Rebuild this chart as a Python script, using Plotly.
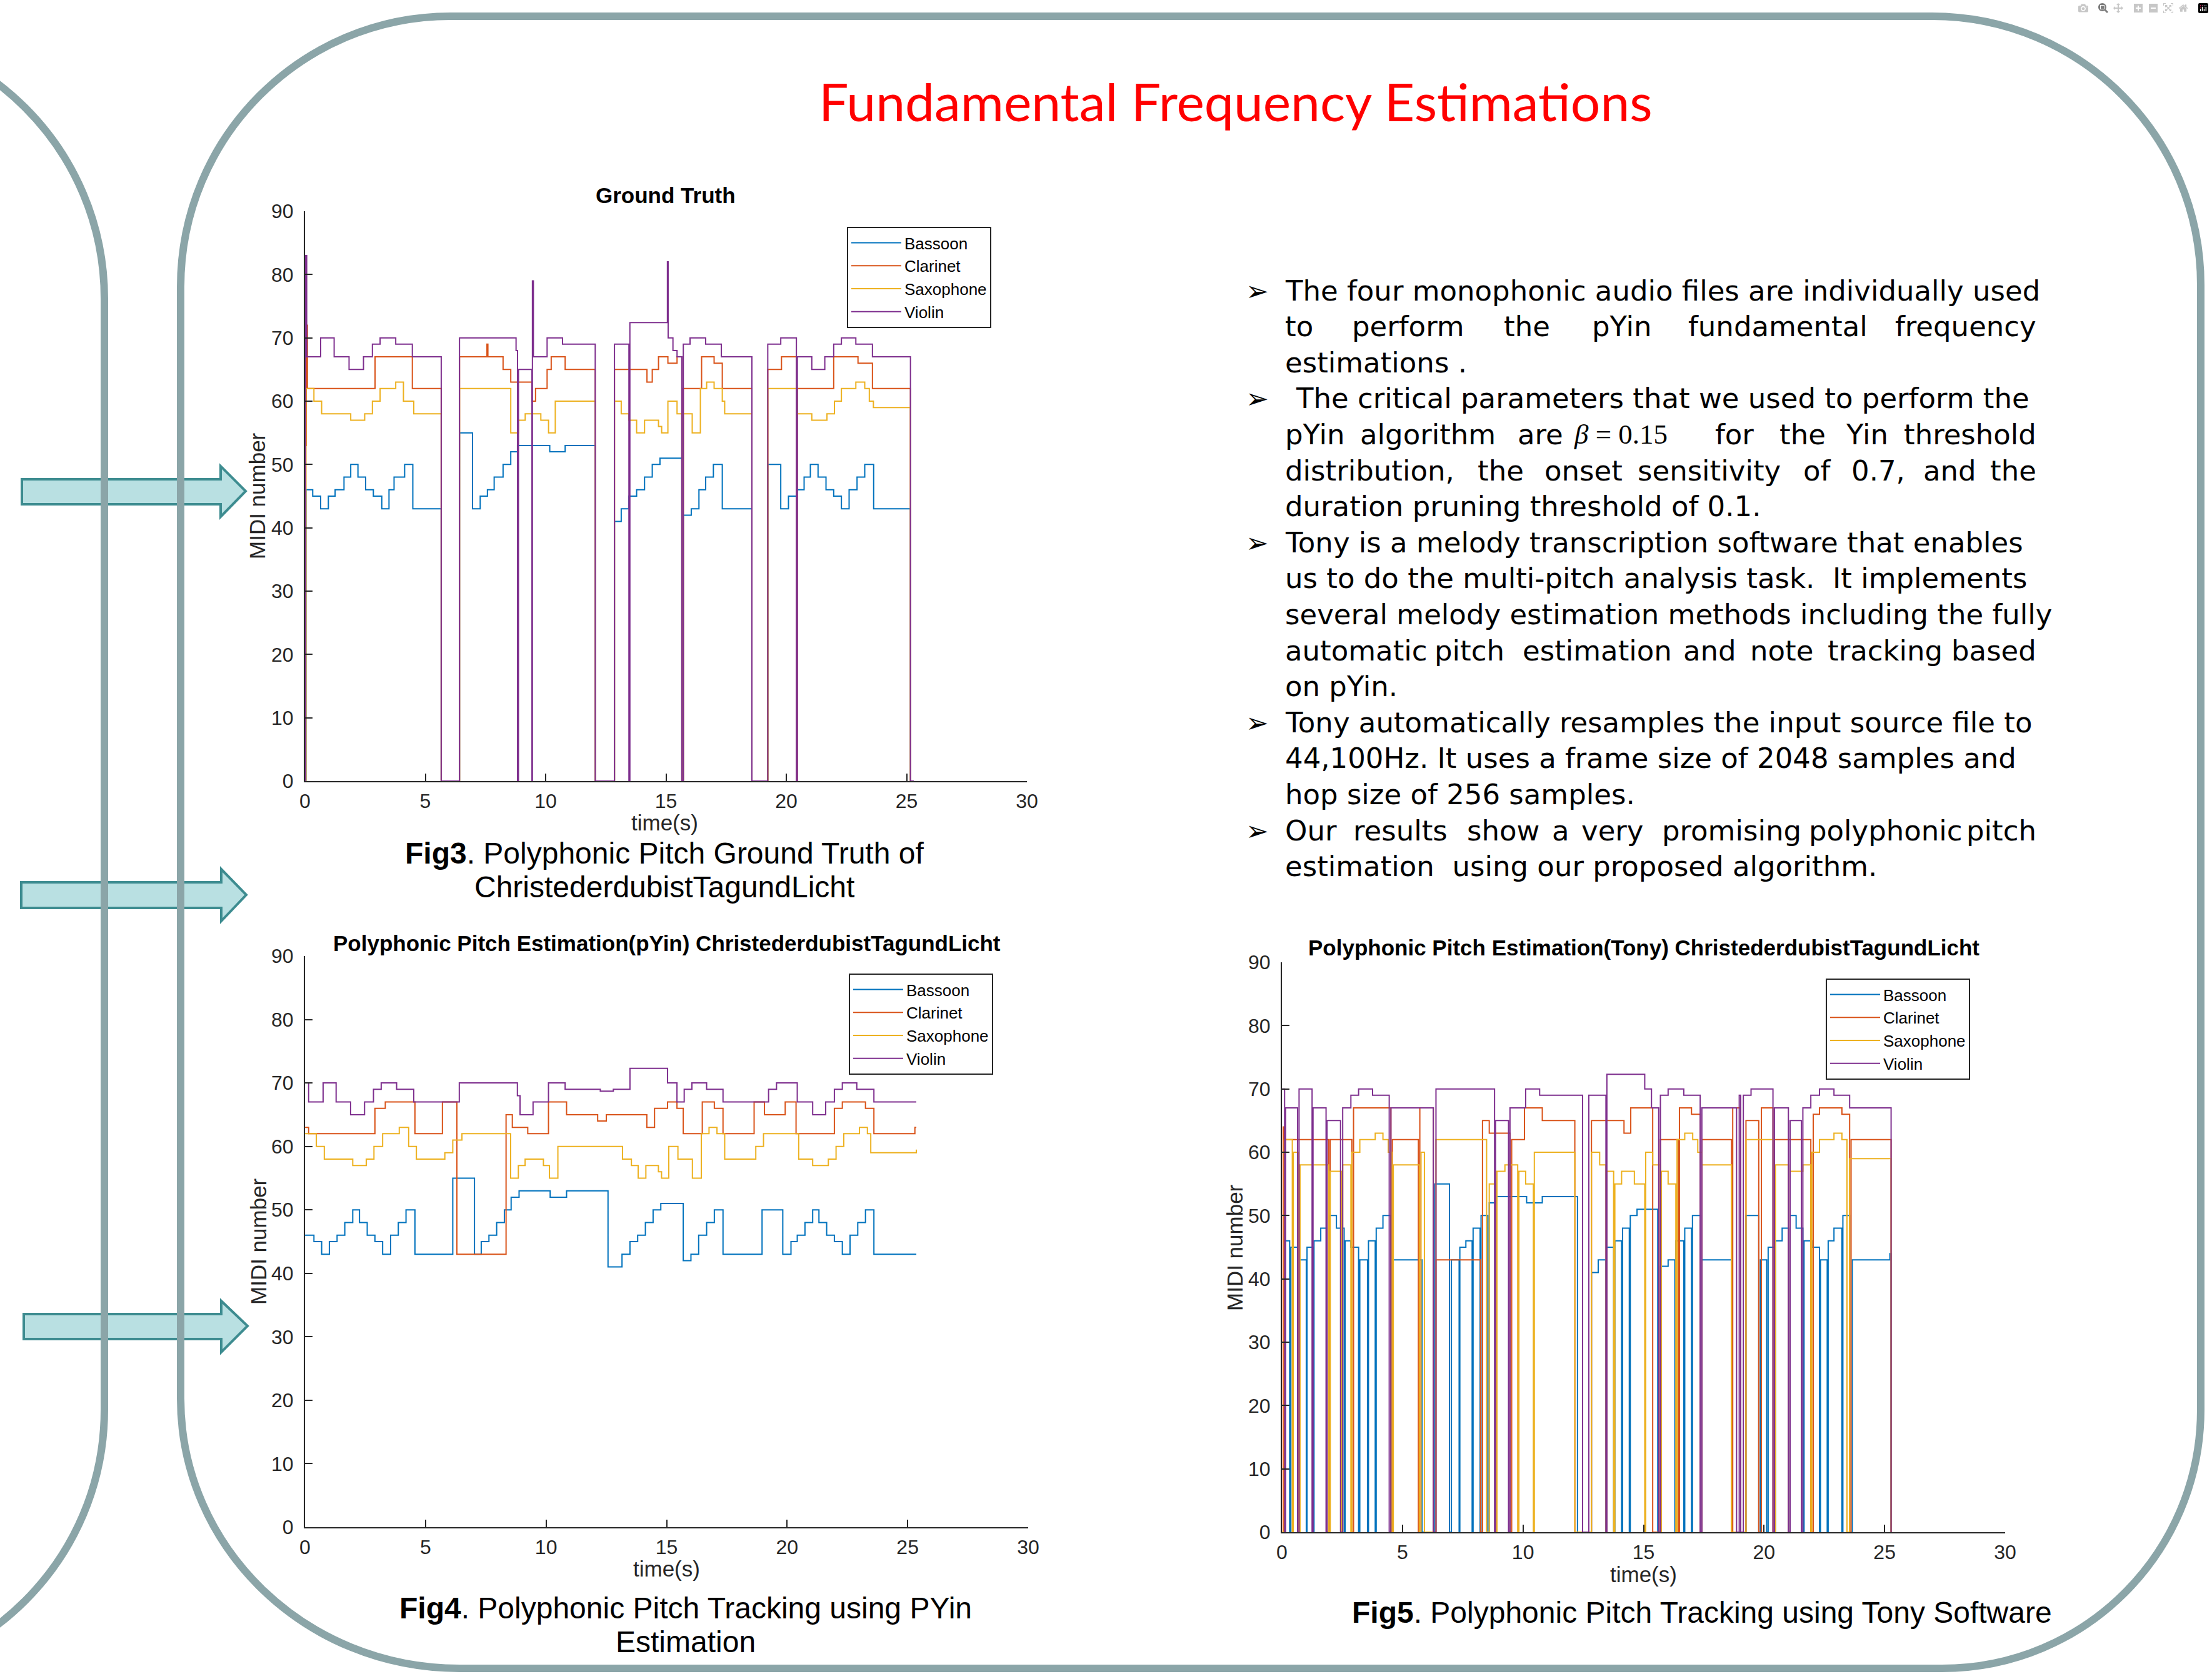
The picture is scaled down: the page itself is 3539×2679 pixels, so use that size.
import plotly.graph_objects as go

W, H = 3539, 2679
SANS = "Liberation Sans, Arial, Helvetica, sans-serif"
HAND = "DejaVu Sans, Verdana, sans-serif"
TITLE_FONT = "Lato, Noto Sans, sans-serif"

INSTRUMENTS = ["Bassoon", "Clarinet", "Saxophone", "Violin"]
COLORS = ["#0072BD", "#D95319", "#EDB120", "#7E2F8E"]
X_TICKS = [0, 5, 10, 15, 20, 25, 30]
Y_TICKS = [0, 10, 20, 30, 40, 50, 60, 70, 80, 90]

# ---------- Ground truth: (start time s, MIDI number) steps; last pair = end ----------
gt_bassoon = [(0.00, 0), (0.04, 46), (0.32, 45), (0.65, 43), (0.97, 45), (1.25, 46), (1.62, 48), (1.90, 50),
              (2.20, 48), (2.52, 46), (2.84, 45), (3.19, 43), (3.49, 46), (3.70, 48), (4.14, 50), (4.48, 43),
              (5.66, 0), (6.42, 55), (6.96, 43), (7.28, 45), (7.58, 46), (7.86, 48), (8.23, 50), (8.55, 52),
              (8.83, 53), (10.17, 52), (10.81, 53), (12.06, 0), (12.86, 41), (13.14, 43), (13.46, 45),
              (13.78, 46), (14.11, 48), (14.43, 50), (14.75, 51), (15.66, 0), (15.72, 42), (16.05, 43),
              (16.37, 46), (16.65, 48), (16.97, 50), (17.34, 43), (18.57, 0), (19.23, 50), (19.77, 43),
              (20.09, 45), (20.42, 46), (20.74, 48), (21.00, 50), (21.32, 48), (21.65, 46), (21.97, 45),
              (22.29, 43), (22.61, 46), (22.94, 48), (23.26, 50), (23.63, 43), (25.16, 0), (25.30, 0)]
gt_clarinet = [(0.00, 0), (0.02, 53), (0.05, 72), (0.10, 62), (2.91, 67), (4.46, 62), (5.66, 0), (6.42, 67),
               (7.56, 69), (7.60, 67), (8.23, 65), (8.55, 63), (9.43, 60), (9.58, 62), (10.06, 65), (10.23, 67),
               (10.81, 65), (12.06, 0), (12.86, 65), (14.21, 63), (14.43, 65), (14.69, 67), (15.08, 66),
               (15.46, 67), (15.66, 0), (15.72, 62), (16.48, 67), (17.00, 66), (17.34, 62), (18.57, 0),
               (19.23, 65), (19.80, 67), (20.42, 0), (20.46, 62), (21.97, 67), (22.98, 66), (23.58, 62),
               (25.16, 0), (25.30, 0)]
gt_saxophone = [(0.00, 0), (0.04, 62), (0.37, 60), (0.69, 58), (1.90, 57), (2.48, 58), (2.80, 60), (3.12, 62),
                (3.77, 63), (4.09, 60), (4.52, 58), (5.66, 0), (6.42, 62), (8.55, 55), (8.87, 57), (9.15, 58),
                (9.80, 57), (10.12, 55), (10.40, 60), (12.06, 0), (12.86, 60), (13.14, 58), (13.46, 57),
                (13.78, 55), (14.11, 57), (14.69, 56), (14.82, 55), (15.08, 60), (15.46, 58), (15.66, 0),
                (15.72, 58), (16.09, 55), (16.43, 62), (16.69, 63), (17.00, 62), (17.34, 60), (17.44, 58),
                (18.57, 0), (19.23, 62), (20.46, 58), (21.06, 57), (21.69, 58), (22.00, 60), (22.29, 62),
                (22.89, 63), (23.26, 62), (23.45, 60), (23.62, 59), (25.16, 0), (25.30, 0)]
gt_violin = [(0.00, 0), (0.02, 83), (0.07, 67), (0.65, 70), (1.21, 67), (1.83, 65), (2.43, 67), (2.80, 69),
             (3.12, 70), (3.77, 69), (4.46, 67), (5.66, 0), (6.42, 70), (8.77, 68), (8.83, 0), (8.87, 65),
             (9.43, 0), (9.45, 79), (9.49, 67), (10.06, 70), (10.70, 69), (12.06, 0), (12.86, 69), (13.46, 0),
             (13.50, 72.4), (15.06, 82), (15.09, 70), (15.29, 68), (15.46, 67), (15.66, 0), (15.72, 69),
             (16.00, 70), (16.65, 69), (17.30, 67), (18.57, 0), (19.23, 69), (19.77, 70), (20.42, 0),
             (20.46, 67), (21.06, 65), (21.60, 67), (21.97, 69), (22.29, 70), (22.89, 69), (23.58, 67),
             (25.16, 0), (25.30, 0)]

# ---------- pYin estimation ----------
pyin_bassoon = [(0.00, 46), (0.37, 45), (0.69, 43), (1.01, 45), (1.33, 46), (1.65, 48), (1.98, 50), (2.26, 48),
                (2.58, 46), (2.90, 45), (3.22, 43), (3.55, 46), (3.87, 48), (4.19, 50), (4.56, 43), (6.13, 55),
                (7.03, 43), (7.31, 45), (7.63, 46), (7.95, 48), (8.27, 50), (8.55, 52), (8.88, 53), (10.17, 52),
                (10.85, 53), (12.57, 41), (13.15, 43), (13.48, 45), (13.80, 46), (14.12, 48), (14.44, 50),
                (14.76, 51), (15.69, 42), (16.01, 43), (16.33, 46), (16.66, 48), (16.98, 50), (17.34, 43),
                (18.96, 50), (19.82, 43), (20.16, 45), (20.42, 46), (20.74, 48), (21.06, 50), (21.32, 48),
                (21.64, 46), (21.96, 45), (22.29, 43), (22.61, 46), (22.93, 48), (23.25, 50), (23.60, 43),
                (25.36, 43)]
pyin_clarinet = [(0.00, 63), (0.15, 62), (2.90, 66), (3.33, 67), (4.56, 62), (5.70, 67), (6.30, 43), (8.34, 65),
                 (8.60, 63), (9.24, 62), (10.10, 67), (10.85, 65), (12.14, 64), (12.50, 65), (14.18, 63),
                 (14.50, 66), (15.04, 67), (15.43, 66), (15.69, 62), (16.48, 67), (16.98, 66), (17.34, 62),
                 (18.63, 67), (19.06, 65), (19.92, 67), (20.37, 62), (21.96, 66), (22.29, 67), (23.25, 66),
                 (23.60, 62), (25.30, 63), (25.36, 63)]
pyin_saxophone = [(0.00, 62), (0.47, 60), (0.80, 58), (1.98, 57), (2.54, 58), (2.86, 60), (3.22, 62), (3.91, 63),
                  (4.30, 60), (4.62, 58), (5.80, 59), (6.13, 61), (6.51, 62), (8.53, 55), (8.85, 57), (9.13, 58),
                  (9.89, 57), (10.14, 55), (10.49, 60), (13.17, 58), (13.54, 57), (13.82, 55), (14.14, 57),
                  (14.66, 56), (14.79, 55), (15.09, 60), (15.47, 58), (16.07, 55), (16.44, 62), (16.76, 63),
                  (17.09, 62), (17.41, 58), (18.70, 60), (19.02, 62), (20.48, 58), (21.06, 57), (21.71, 58),
                  (22.03, 60), (22.35, 62), (23.00, 63), (23.33, 62), (23.47, 59), (25.36, 59.5)]
pyin_violin = [(0.00, 70), (0.15, 67), (0.75, 70), (1.29, 67), (1.89, 65), (2.47, 67), (2.84, 69), (3.16, 70),
               (3.80, 69), (4.51, 67), (6.40, 70), (8.81, 68), (8.92, 65), (9.46, 67), (10.10, 70), (10.79, 69),
               (12.25, 68.7), (12.79, 69), (13.48, 72.3), (15.04, 70), (15.43, 67), (15.73, 69), (16.05, 70),
               (16.66, 69), (17.34, 67), (19.23, 69), (19.56, 70), (20.42, 67), (21.06, 65), (21.60, 67),
               (21.96, 69), (22.29, 70), (22.89, 69), (23.60, 67), (25.36, 67)]

# ---------- Tony estimation (0 = unvoiced) ----------
tony_bassoon = [(0.00, 0), (0.11, 46), (0.32, 0), (0.37, 45), (0.65, 0), (0.71, 43), (1.01, 0), (1.04, 45),
                (1.29, 0), (1.33, 46), (1.61, 48), (1.87, 0), (1.96, 50), (2.26, 48), (2.58, 0), (2.62, 46),
                (2.86, 45), (3.18, 0), (3.23, 43), (3.55, 0), (3.59, 46), (3.87, 0), (3.91, 48), (4.19, 50),
                (4.52, 0), (4.58, 43), (5.81, 0), (6.34, 55), (6.95, 0), (7.03, 43), (7.35, 0), (7.38, 45),
                (7.63, 46), (7.89, 0), (7.93, 48), (8.22, 0), (8.26, 50), (8.54, 0), (8.60, 52), (8.88, 53),
                (10.15, 52), (10.80, 53), (12.26, 0), (12.84, 41), (13.12, 43), (13.44, 0), (13.48, 45),
                (13.76, 0), (13.81, 46), (14.09, 0), (14.13, 48), (14.41, 0), (14.45, 50), (14.73, 51),
                (15.59, 0), (15.70, 42), (16.02, 43), (16.30, 0), (16.34, 46), (16.67, 0), (16.71, 48),
                (16.99, 0), (17.03, 50), (17.35, 0), (17.42, 43), (18.65, 0), (19.25, 50), (19.78, 0),
                (19.85, 43), (20.11, 0), (20.17, 45), (20.43, 0), (20.47, 46), (20.75, 48), (21.01, 0),
                (21.08, 50), (21.33, 48), (21.61, 0), (21.66, 46), (21.98, 45), (22.30, 0), (22.34, 43),
                (22.62, 0), (22.66, 46), (22.90, 48), (23.23, 0), (23.27, 50), (23.55, 0), (23.66, 43),
                (25.22, 44), (25.27, 0), (25.30, 0)]
tony_clarinet = [(0.00, 0), (0.05, 64), (0.10, 62), (1.94, 0), (2.00, 62), (2.90, 0), (2.97, 67), (4.52, 0),
                 (4.58, 62), (5.66, 0), (5.72, 67), (6.28, 0), (6.39, 43), (8.24, 0), (8.32, 65), (8.60, 63),
                 (9.46, 0), (9.53, 62), (10.06, 67), (10.80, 65), (12.15, 0), (12.84, 65), (14.19, 63),
                 (14.47, 67), (15.38, 0), (15.70, 62), (16.45, 0), (16.49, 67), (16.99, 66), (17.35, 0),
                 (17.42, 62), (18.65, 0), (18.70, 67), (19.03, 0), (19.25, 65), (19.78, 0), (19.89, 67),
                 (20.37, 0), (20.43, 62), (21.94, 0), (22.04, 66), (22.30, 67), (23.23, 66), (23.55, 0),
                 (23.61, 62), (25.27, 0), (25.30, 0)]
tony_saxophone = [(0.00, 0), (0.10, 62), (0.43, 0), (0.47, 60), (0.69, 0), (0.75, 58), (1.94, 0), (2.00, 57),
                  (2.47, 0), (2.52, 58), (2.86, 0), (2.90, 60), (3.23, 62), (3.87, 63), (4.19, 62), (4.41, 60),
                  (4.56, 0), (4.62, 58), (5.70, 0), (5.77, 60), (5.91, 0), (6.39, 62), (8.49, 0), (8.60, 55),
                  (8.86, 0), (8.92, 57), (9.25, 58), (9.78, 0), (9.83, 57), (10.11, 55), (10.43, 0), (10.47, 60),
                  (12.15, 0), (12.84, 60), (13.18, 58), (13.44, 0), (13.48, 57), (13.76, 0), (13.81, 55),
                  (14.09, 57), (14.62, 55), (15.05, 0), (15.09, 60), (15.38, 58), (15.70, 0), (15.74, 57),
                  (16.02, 55), (16.34, 0), (16.39, 62), (16.71, 63), (17.04, 62), (17.25, 60), (17.42, 58),
                  (18.65, 0), (19.25, 62), (20.43, 0), (20.47, 58), (21.01, 0), (21.08, 57), (21.61, 58),
                  (21.94, 0), (21.98, 60), (22.30, 62), (22.90, 63), (23.23, 62), (23.44, 0), (23.55, 59),
                  (25.27, 0), (25.30, 0)]
tony_violin = [(0.00, 70), (0.11, 0), (0.15, 67), (0.65, 0), (0.71, 70), (1.25, 0), (1.29, 67), (1.83, 0),
               (1.87, 65), (2.43, 0), (2.52, 67), (2.86, 69), (3.18, 70), (3.76, 69), (4.45, 0), (4.52, 67),
               (6.28, 0), (6.39, 70), (8.82, 0), (8.86, 65), (9.40, 0), (9.46, 67), (10.11, 70), (10.69, 69),
               (12.47, 0), (12.73, 69), (13.44, 0), (13.48, 72.3), (15.05, 70), (15.33, 67), (15.63, 0),
               (15.70, 69), (16.02, 70), (16.67, 69), (17.35, 0), (17.42, 67), (18.86, 0), (18.97, 69),
               (19.03, 0), (19.14, 69), (19.46, 70), (20.37, 0), (20.43, 67), (21.01, 0), (21.08, 65),
               (21.55, 0), (21.61, 67), (21.94, 69), (22.30, 70), (22.90, 69), (23.55, 67), (25.27, 0),
               (25.30, 0)]

PANEL_TITLES = ["Ground Truth",
                "Polyphonic Pitch Estimation(pYin) ChristederdubistTagundLicht",
                "Polyphonic Pitch Estimation(Tony) ChristederdubistTagundLicht"]
POSTER_TITLE = "Fundamental Frequency Estimations"
BULLET_TEXT = [
    "The four monophonic audio files are individually used",
    "to perform the pYin fundamental frequency",
    "estimations .",
    "The critical parameters that we used to perform the",
    "pYin algorithm are β = 0.15 for the Yin threshold",
    "distribution, the onset sensitivity of 0.7, and the",
    "duration pruning threshold of 0.1.",
    "Tony is a melody transcription software that enables",
    "us to do the multi-pitch analysis task.&nbsp; It implements",
    "several melody estimation methods including the fully",
    "automatic pitch estimation and note tracking based",
    "on pYin.",
    "Tony automatically resamples the input source file to",
    "44,100Hz. It uses a frame size of 2048 samples and",
    "hop size of 256 samples.",
    "Our results show a very promising polyphonic pitch",
    "estimation&nbsp; using our proposed algorithm.",
]
BULLET_ROWS = [0, 3, 7, 12, 15]
JUSTIFIED_WORDS = {
    1: ["to", "perform", "the", "pYin", "fundamental", "frequency"],
    4: ["pYin", "algorithm", "are", "<span style='font-family:Liberation Serif'><i>β</i> = 0.15</span>",
        "for", "the", "Yin", "threshold"],
    5: ["distribution,", "the", "onset", "sensitivity", "of", "0.7,", "and", "the"],
    10: ["automatic", "pitch", "estimation", "and", "note", "tracking", "based"],
    15: ["Our", "results", "show", "a", "very", "promising", "polyphonic", "pitch"],
}
JUSTIFIED_X = {
    1: [2054, 2161, 2404, 2545, 2699, 3035],
    4: [2054, 2174, 2426, 2516, 2742, 2845, 2951, 3045],
    5: [2054, 2362, 2469, 2618, 2883, 2960, 3075, 3182],
    10: [2054, 2293, 2434, 2691, 2798, 2922, 3131],
    15: [2054, 2163, 2345, 2481, 2528, 2657, 2892, 3135],
}


def X(px):
    return px / W


def Y(py):
    return 1 - py / H


def steps(pairs):
    xs, ys = [], []
    for i in range(len(pairs) - 1):
        t0, v = pairs[i]
        t1 = pairs[i + 1][0]
        xs += [t0, t1]
        ys += [v, v]
    xs.append(pairs[-1][0])
    ys.append(pairs[-1][1])
    return xs, ys


fig = go.Figure()

panels = [
    ("x", "y", "legend", [gt_bassoon, gt_clarinet, gt_saxophone, gt_violin]),
    ("x2", "y2", "legend2", [pyin_bassoon, pyin_clarinet, pyin_saxophone, pyin_violin]),
    ("x3", "y3", "legend3", [tony_bassoon, tony_clarinet, tony_saxophone, tony_violin]),
]
for xa, ya, lg, series in panels:
    for name, color, pairs in zip(INSTRUMENTS, COLORS, series):
        xs, ys = steps(pairs)
        fig.add_trace(go.Scatter(x=xs, y=ys, mode="lines", name=name, legend=lg,
                                 line=dict(color=color, width=2), xaxis=xa, yaxis=ya,
                                 hoverinfo="skip"))

# axes boxes (pixel positions in the poster): left, right, top, bottom
BOXES = [
    (488, 1643, 338, 1250),
    (488, 1645, 1530, 2444),
    (2051, 3208, 1540, 2452),
]


def xaxis_style(box, anchor):
    return dict(domain=[X(box[0]), X(box[1])], range=[0, 30], tickvals=X_TICKS, anchor=anchor,
                showline=True, linecolor="#262626", linewidth=2, ticks="inside", ticklen=12,
                tickwidth=2, tickcolor="#262626", showgrid=False, zeroline=False, automargin=False,
                ticklabelstandoff=3, tickfont=dict(family=SANS, size=32, color="#262626"))


def yaxis_style(box, anchor):
    return dict(domain=[Y(box[3]), Y(box[2])], range=[0, 90], tickvals=Y_TICKS, anchor=anchor,
                showline=True, linecolor="#262626", linewidth=2, ticks="inside", ticklen=12,
                tickwidth=2, tickcolor="#262626", showgrid=False, zeroline=False, automargin=False,
                ticklabelstandoff=10, tickfont=dict(family=SANS, size=32, color="#262626"))


def legend_style(px, py):
    return dict(x=X(px), y=Y(py), xanchor="left", yanchor="top", bgcolor="white",
                bordercolor="#262626", borderwidth=2, itemwidth=80, tracegroupgap=0,
                font=dict(family=SANS, size=26, color="black"))


def note(px, py, text, font, xanchor="center", **kw):
    return dict(x=X(px), y=Y(py), xref="paper", yref="paper", text=text, showarrow=False,
                xanchor=xanchor, yanchor="middle", font=font, **kw)


annotations = []
# panel titles, axis labels
title_pos = [(1065, 313), (1067, 1509), (2630, 1516)]
for (cx, cy), txt in zip(title_pos, PANEL_TITLES):
    annotations.append(note(cx, cy, "<b>" + txt + "</b>", dict(family=SANS, size=35, color="black")))
for (lx, ly) in [(411, 794), (413, 1987), (1975, 1996)]:
    annotations.append(note(lx, ly, "MIDI number", dict(family=SANS, size=35, color="#262626"), textangle=-90))
for (lx, ly) in [(1063, 1316), (1066, 2510), (2629, 2519)]:
    annotations.append(note(lx, ly, "time(s)", dict(family=SANS, size=35, color="#262626")))

# figure captions
captions = [
    (1063, 1365, "<b>Fig3</b>. Polyphonic Pitch Ground Truth of"),
    (1063, 1419, "ChristederdubistTagundLicht"),
    (1097, 2573, "<b>Fig4</b>. Polyphonic Pitch Tracking using PYin"),
    (1097, 2627, "Estimation"),
    (2723, 2580, "<b>Fig5</b>. Polyphonic Pitch Tracking using Tony Software"),
]
for cx, cy, txt in captions:
    annotations.append(note(cx, cy, txt, dict(family=SANS, size=48, color="black")))

# poster title
annotations.append(note(1977, 162, POSTER_TITLE, dict(family=TITLE_FONT, size=84, color="#FF0000")))

# bullet text
LINE0, LINE_STEP = 465, 57.6
BODY = dict(family=HAND, size=45, color="black")
for i, line in enumerate(BULLET_TEXT):
    ly = LINE0 + LINE_STEP * i
    if i in BULLET_ROWS:
        annotations.append(note(2011, ly, "➢", dict(family="DejaVu Sans", size=44, color="black")))
    if i in JUSTIFIED_WORDS:
        words = JUSTIFIED_WORDS[i]
        xs = JUSTIFIED_X[i]
        for j, (wd, wx) in enumerate(zip(words, xs)):
            last = j == len(words) - 1
            annotations.append(note(3260 if last else wx, ly, wd, BODY,
                                    xanchor="right" if last else "left"))
    else:
        sx = 2071 if i == 3 else 2054
        annotations.append(note(sx, ly, line, BODY, xanchor="left"))


# ---------- decorative shapes ----------
def path(cmds):
    out = []
    for c in cmds:
        if isinstance(c, str):
            out.append(c)
        else:
            out.append("%.5f,%.5f" % (X(c[0]), Y(c[1])))
    return " ".join(out)


K = 0.5523
main_panel = path([
    "M", (721, 26), "L", (3091, 26),
    "C", (3091 + K * 430, 26), (3521, 456 - K * 430), (3521, 456),
    "L", (3521, 2256),
    "C", (3521, 2256 + K * 414), (3107 + K * 414, 2670), (3107, 2670),
    "L", (735, 2670),
    "C", (735 - K * 446, 2670), (289, 2238 + K * 432), (289, 2238),
    "L", (289, 459),
    "C", (289, 459 - K * 433), (721 - K * 432, 26), (721, 26), "Z",
])
left_panel = path([
    "M", (-265, 46),
    "C", (-265 + K * 432, 46), (167, 478 - K * 432), (167, 478),
    "L", (167, 2256),
    "C", (167, 2256 + K * 432), (-265 + K * 432, 2688), (-265, 2688),
])


def arrow(x0, x1, tip, sy0, sy1, hy0, hy1, ty):
    return path(["M", (x0, sy0), "L", (x1, sy0), "L", (x1, hy0), "L", (tip, ty), "L", (x1, hy1),
                 "L", (x1, sy1), "L", (x0, sy1), "Z"])


shapes = []
for a in [arrow(35, 353, 393, 767, 807, 746, 827, 786),
          arrow(34, 354, 394, 1412, 1453, 1391, 1474, 1432),
          arrow(38, 354, 396, 2103, 2143, 2082, 2164, 2122)]:
    shapes.append(dict(type="path", path=a, xref="paper", yref="paper", fillcolor="#B9E0E2",
                       line=dict(color="#3D8C90", width=4)))
for p in [main_panel, left_panel]:
    shapes.append(dict(type="path", path=p, xref="paper", yref="paper",
                       line=dict(color="#8BA5A8", width=12)))

fig.update_layout(
    width=W, height=H, autosize=False,
    margin=dict(l=0, r=0, t=0, b=0, pad=0, autoexpand=False),
    paper_bgcolor="white", plot_bgcolor="rgba(0,0,0,0)",
    showlegend=True,
    xaxis=xaxis_style(BOXES[0], "y"), yaxis=yaxis_style(BOXES[0], "x"),
    xaxis2=xaxis_style(BOXES[1], "y2"), yaxis2=yaxis_style(BOXES[1], "x2"),
    xaxis3=xaxis_style(BOXES[2], "y3"), yaxis3=yaxis_style(BOXES[2], "x3"),
    legend=legend_style(1355, 363), legend2=legend_style(1358, 1558), legend3=legend_style(2921, 1566),
    annotations=annotations, shapes=shapes,
)

fig.write_html("out.html", post_script="document.body.style.margin='0';")
